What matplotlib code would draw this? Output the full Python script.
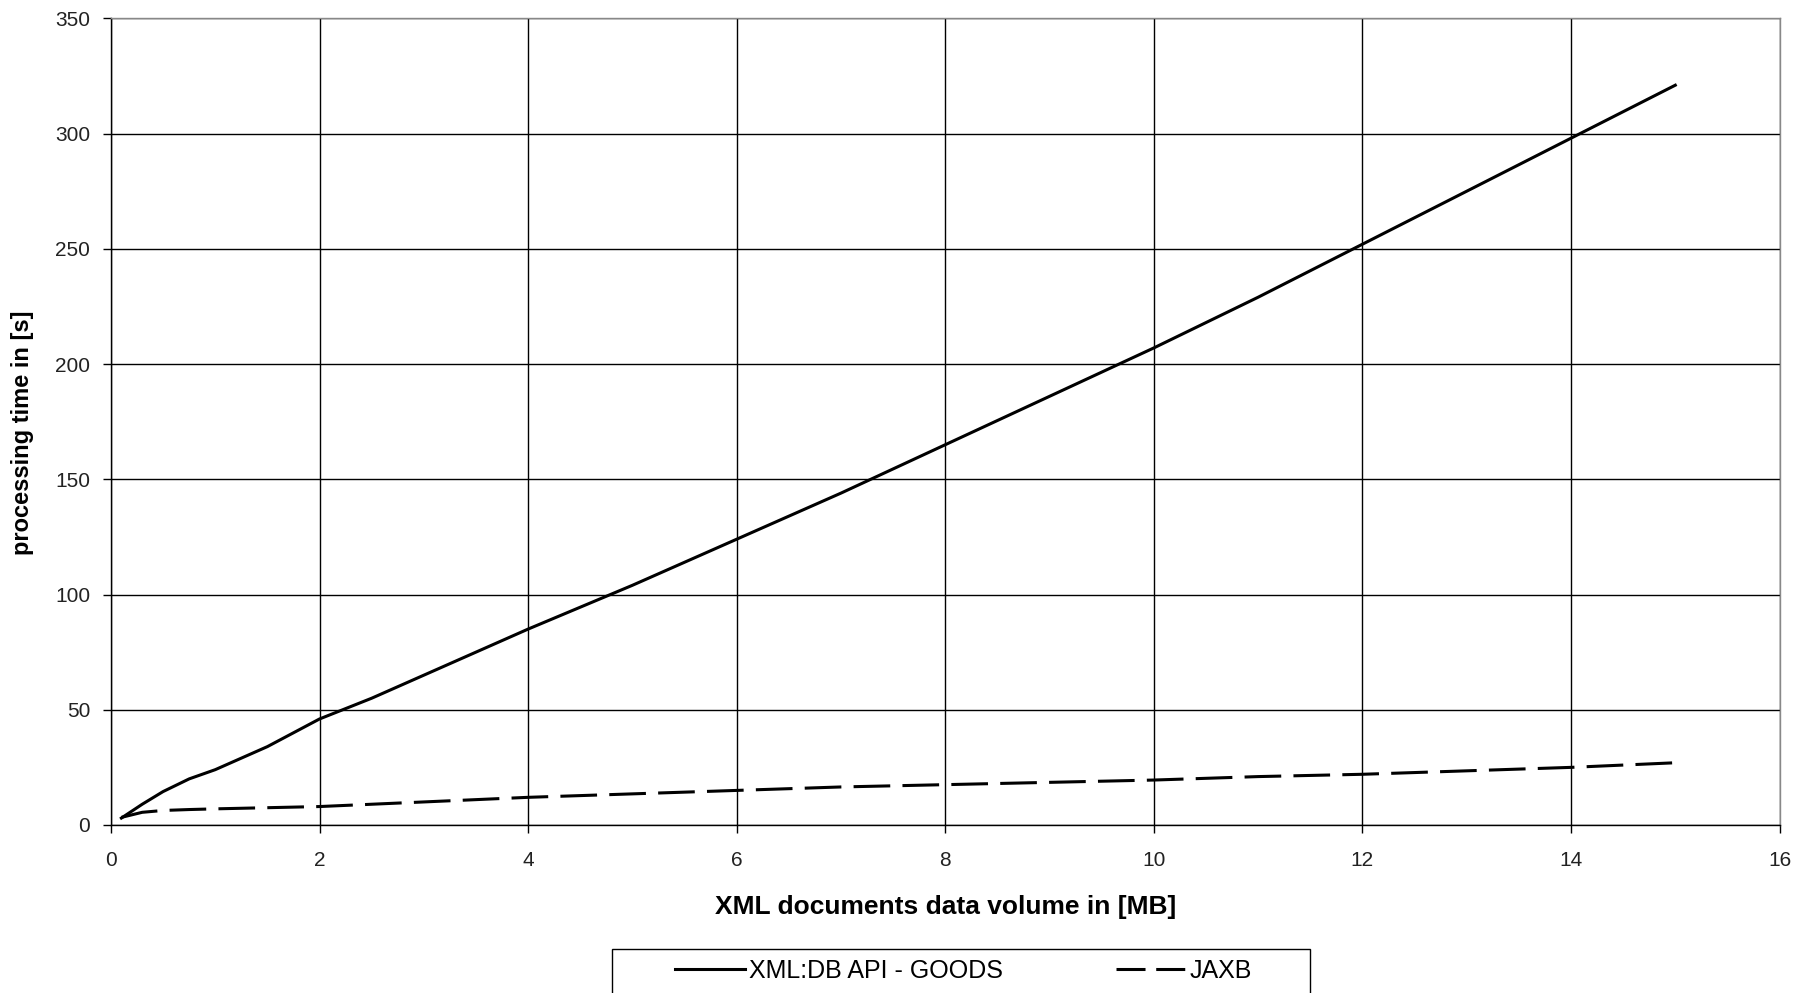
import matplotlib.pyplot as plt
from matplotlib.patches import Rectangle

plt.rcParams['font.family'] = ['Liberation Sans', 'DejaVu Sans']

# data volume in MB
size_mb = [0.1, 0.3, 0.5, 0.75, 1, 1.5, 2, 2.5, 3, 4, 5, 6, 7, 8, 9, 10, 11, 12, 13, 14, 15]
# processing time in s
xmldb = [3, 9, 14.5, 20, 24, 34, 46, 55, 65, 85, 104, 124, 144, 165, 186, 207, 229, 252, 275, 298, 321]
jaxb = [3.3, 5.5, 6.3, 6.7, 7, 7.5, 8, 9, 10, 12, 13.5, 15, 16.5, 17.5, 18.5, 19.5, 21, 22, 23.5, 25, 27]

fig = plt.figure(figsize=(18.01, 9.93), dpi=100)
ax = fig.add_axes([0.0616, 0.1692, 0.9265, 0.8123])

ax.plot(size_mb, xmldb, color='black', linewidth=2.2, label='XML:DB API - GOODS')
ax.plot(size_mb, jaxb, color='black', linewidth=2.2, dashes=(12, 4), label='JAXB')

ax.set_xlim(0, 16)
ax.set_ylim(0, 350)
ax.set_xticks(range(0, 17, 2))
ax.set_yticks(range(0, 351, 50))
ax.grid(True, color='black', linewidth=1.0)
for s in ax.spines.values():
    s.set_color('black')
    s.set_linewidth(1.0)
ax.spines['right'].set_color('#888888')
ax.spines['top'].set_color('#888888')
ax.tick_params(direction='out', length=6, width=1.0, colors='black',
               labelcolor='#222222', labelsize=15)
ax.tick_params(axis='x', pad=13)
ax.tick_params(axis='y', pad=9)

ax.set_xlabel('XML documents data volume in [MB]', fontsize=19, fontweight='bold', labelpad=18)
ax.set_ylabel('processing time in [s]', fontsize=17, fontweight='bold')
ax.yaxis.set_label_coords(-0.046, 0.486)

# legend box, cut by the bottom edge as in the original
fig.patches.append(Rectangle((0.3397, -0.01), 0.3879, 0.054, transform=fig.transFigure,
                             facecolor='white', edgecolor='black', linewidth=1.0))
leg = fig.legend(loc='center left', bbox_to_anchor=(0.375, 0.022), ncol=2,
                 frameon=False, fontsize=18, borderpad=0, borderaxespad=0,
                 handlelength=2.77, handletextpad=0.18, columnspacing=4.5)
leg.get_lines()[1].set_dashes((9.5, 3.5))

fig.savefig('out.png', dpi=100)
